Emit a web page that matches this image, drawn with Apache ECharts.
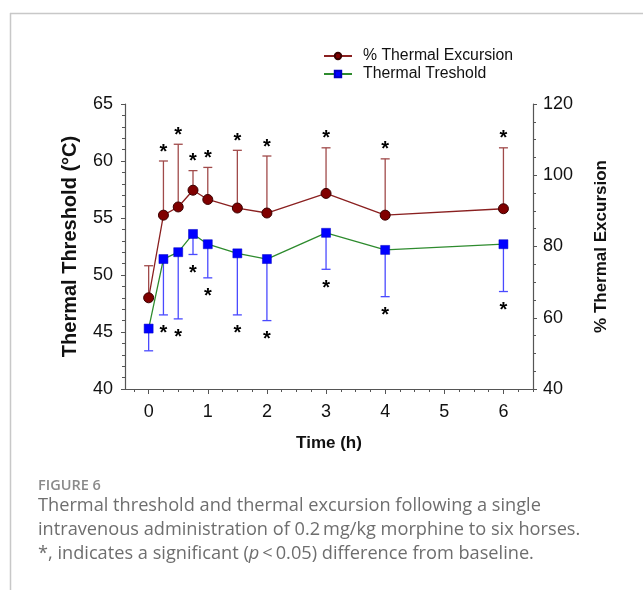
<!DOCTYPE html>
<html>
<head>
<meta charset="utf-8">
<script src="https://cdn.jsdelivr.net/npm/echarts@6/dist/echarts.min.js"></script>
<style>
html,body{margin:0;padding:0;background:#fff;}
#chart{width:643px;height:590px;}
</style>
</head>
<body>
<div id="chart"></div>
<script>
// ---- data ----
var times = [0, 0.25, 0.5, 0.75, 1, 1.5, 2, 3, 4, 6];
var thresholdMean = [45.3, 51.4, 52.0, 53.6, 52.7, 51.9, 51.4, 53.7, 52.2, 52.7];
var thresholdSD   = [1.95, 4.9, 5.85, 1.8, 2.95, 5.4, 5.4, 3.2, 4.1, 4.15];
var thresholdSig  = [0, 1, 1, 1, 1, 1, 1, 1, 1, 1];
var excursionMean = [65.6, 88.8, 91.1, 95.8, 93.2, 90.8, 89.4, 94.9, 88.8, 90.6];
var excursionSD   = [9.0, 15.2, 17.6, 5.5, 9.0, 16.2, 16.0, 12.8, 15.8, 17.1];
var excursionSig  = [0, 1, 1, 1, 1, 1, 1, 1, 1, 1];
var xMajorTicks = [0, 1, 2, 3, 4, 5, 6];
var xMinorTicks = [-0.25, 0, 0.25, 0.5, 0.75, 1, 1.25, 1.5, 1.75, 2, 2.25, 2.5, 2.75, 3, 3.25, 3.5, 3.75, 4, 4.25, 4.5, 4.75, 5, 5.25, 5.5, 5.75, 6, 6.25, 6.5];
var captionTitle = 'FIGURE 6';
var captionLines = [
  'Thermal threshold and thermal excursion following a single',
  'intravenous administration of 0.2\u2009mg/kg morphine to six horses.',
  '*, indicates a significant ({i|p}\u2009<\u20090.05) difference from baseline.'
];

var BLUE = '#0000ff';
var BLUE_BAR = '#4a4aff';
var RED_BAR = '#a04a4a';
var GREEN = '#2e8b2e';
var AXIS = '#555';
var FONT = '"Liberation Sans", Arial, sans-serif';

function pairs(xs, ys) { return xs.map(function (x, i) { return [x, ys[i]]; }); }
function errData(xs, m, sd, sig) { return xs.map(function (x, i) { return [x, m[i], sd[i], sig[i]]; }); }

function makeErr(dir, color) {
  return function (params, api) {
    var x = api.value(0), m = api.value(1), sd = api.value(2), sig = api.value(3);
    var p0 = api.coord([x, m]);
    var p1 = api.coord([x, m + dir * sd]);
    var cap = 4.5;
    var children = [
      { type: 'line', shape: { x1: p0[0], y1: p0[1], x2: p1[0], y2: p1[1] }, style: { stroke: color, lineWidth: 1.3 } },
      { type: 'line', shape: { x1: p1[0] - cap, y1: p1[1], x2: p1[0] + cap, y2: p1[1] }, style: { stroke: color, lineWidth: 1.3 } }
    ];
    if (sig) {
      children.push({
        type: 'text',
        style: {
          text: '*', x: p1[0], y: p1[1] + (dir > 0 ? -9 : 19),
          align: 'center', verticalAlign: 'middle',
          font: 'bold 20px ' + FONT, fill: '#000'
        }
      });
    }
    return { type: 'group', children: children };
  };
}

var chart = echarts.init(document.getElementById('chart'), null, { renderer: 'canvas' });
var option = {
  animation: false,
  backgroundColor: '#fff',
  textStyle: { fontFamily: FONT },
  grid: { left: 125, right: 110, top: 104, bottom: 201 },
  legend: {
    orient: 'vertical', left: 318, top: 43,
    itemWidth: 28, itemHeight: 8, itemGap: 2,
    textStyle: { fontSize: 15.8, color: '#111', fontFamily: FONT, padding: [0, 0, 0, 6] },
    data: ['% Thermal Excursion', 'Thermal Treshold']
  },
  xAxis: [
    {
      type: 'value', min: -0.4, max: 6.5,
      name: 'Time (h)', nameLocation: 'middle', nameGap: 46,
      nameTextStyle: { fontSize: 17, fontWeight: 'bold', color: '#111', fontFamily: FONT },
      axisLine: { show: true, onZero: false, lineStyle: { color: AXIS, width: 1.2 } },
      axisTick: { show: true, length: 5, lineStyle: { color: AXIS }, customValues: xMajorTicks },
      axisLabel: { fontSize: 18, color: '#111', margin: 14, customValues: xMajorTicks, fontFamily: FONT },
      splitLine: { show: false }
    },
    {
      type: 'value', min: -0.4, max: 6.5, position: 'bottom',
      axisLine: { show: false, onZero: false },
      axisTick: { show: true, length: 3, lineStyle: { color: AXIS }, customValues: xMinorTicks },
      axisLabel: { show: false },
      splitLine: { show: false }
    }
  ],
  yAxis: [
    {
      type: 'value', min: 40, max: 65, interval: 5, position: 'left',
      name: 'Thermal Threshold (\u00B0C)', nameLocation: 'middle', nameGap: 45, nameRotate: 90,
      nameTextStyle: { fontSize: 20, fontWeight: 'bold', color: '#111', fontFamily: FONT },
      axisLine: { show: true, onZero: false, lineStyle: { color: AXIS, width: 1.2 } },
      axisTick: { show: true, length: 4, lineStyle: { color: AXIS } },
      minorTick: { show: true, splitNumber: 5, length: 3, lineStyle: { color: AXIS } },
      axisLabel: { fontSize: 18, color: '#111', margin: 12, fontFamily: FONT },
      splitLine: { show: false }
    },
    {
      type: 'value', min: 40, max: 120, interval: 20, position: 'right',
      name: '% Thermal Excursion', nameLocation: 'middle', nameGap: 60, nameRotate: 90,
      nameTextStyle: { fontSize: 17, fontWeight: 'bold', color: '#111', fontFamily: FONT },
      axisLine: { show: true, onZero: false, lineStyle: { color: AXIS, width: 1.2 } },
      axisTick: { show: true, length: 4, lineStyle: { color: AXIS } },
      minorTick: { show: true, splitNumber: 4, length: 3, lineStyle: { color: AXIS } },
      axisLabel: { fontSize: 18, color: '#111', margin: 10, fontFamily: FONT },
      splitLine: { show: false }
    }
  ],
  series: [
    {
      name: 'Thermal Treshold err', type: 'custom', yAxisIndex: 0, z: 1,
      renderItem: makeErr(-1, BLUE_BAR), data: errData(times, thresholdMean, thresholdSD, thresholdSig),
      silent: true
    },
    {
      name: '% Thermal Excursion err', type: 'custom', yAxisIndex: 1, z: 1,
      renderItem: makeErr(1, RED_BAR), data: errData(times, excursionMean, excursionSD, excursionSig),
      silent: true
    },
    {
      name: '% Thermal Excursion', type: 'line', yAxisIndex: 1, z: 3,
      data: pairs(times, excursionMean),
      symbol: 'circle', symbolSize: 10,
      lineStyle: { color: '#8a2020', width: 1.3 },
      itemStyle: { color: '#800000', borderColor: '#3a0000', borderWidth: 1 }
    },
    {
      name: 'Thermal Treshold', type: 'line', yAxisIndex: 0, z: 3,
      data: pairs(times, thresholdMean),
      symbol: 'rect', symbolSize: 9,
      lineStyle: { color: GREEN, width: 1.3 },
      itemStyle: { color: BLUE, borderColor: '#0000c0', borderWidth: 0.5 }
    }
  ],
  graphic: [
    { type: 'line', shape: { x1: 10, y1: 13.5, x2: 643, y2: 13.5 }, style: { stroke: '#c8c8c8', lineWidth: 1.5 } },
    { type: 'line', shape: { x1: 10.5, y1: 13, x2: 10.5, y2: 590 }, style: { stroke: '#c8c8c8', lineWidth: 1.5 } },
    { type: 'text', left: 38, top: 478, style: { text: captionTitle, font: '600 14.5px "Open Sans", sans-serif', fill: '#8a8a8a' } },
    { type: 'text', left: 38, top: 494, style: {
        text: captionLines.join('\n'),
        font: '18.2px "Open Sans", sans-serif', fill: '#6e6e6e', lineHeight: 24,
        rich: { i: { fontStyle: 'italic', fontSize: 18.2, fontFamily: '"Open Sans", sans-serif', fill: '#6e6e6e' } }
      } }
  ]
};
chart.setOption(option);
</script>
</body>
</html>
